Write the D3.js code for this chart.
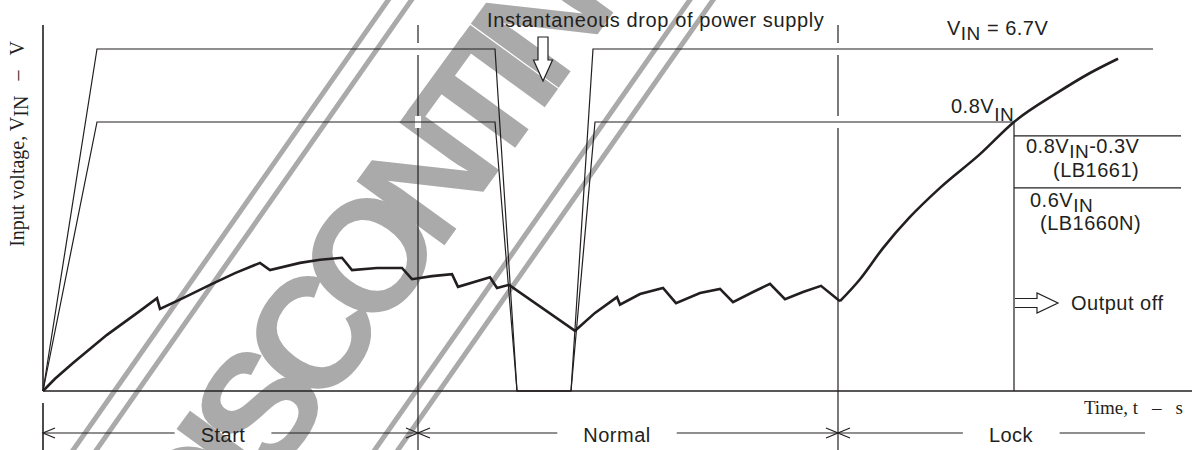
<!DOCTYPE html>
<html>
<head>
<meta charset="utf-8">
<title>Input voltage vs time</title>
<style>
  body { margin: 0; background: #fff; }
  svg { display: block; }
  .sans { font-family: "Liberation Sans", Arial, sans-serif; fill: #231f20; letter-spacing: 0.5px; }
  .serif { font-family: "Liberation Serif", "Times New Roman", serif; fill: #231f20; }
  .thin { fill: none; stroke: #231f20; stroke-width: 1.2; }
  .axis { stroke: #231f20; stroke-width: 1.6; }
  .curve { fill: none; stroke: #231f20; stroke-width: 2.6; stroke-linejoin: miter; }
  .stamp { fill: #aaa; }
</style>
</head>
<body>
<script src="https://d3js.org/d3.v7.min.js"></script>
<script>
// time is in arbitrary units (0..115), voltage in V
const vinLevel = 6.7;
const lockLevel = 5.27;              // 0.8 VIN
const releaseLevels = [5.0, 3.98];   // 0.8VIN-0.3V (LB1661), 0.6VIN (LB1660N)

const supplyT = [0, 5.4, 45.2, 47.4, 52.8, 55.0, 111.0];
const supplyV = [0, 6.7, 6.7, 0, 0, 6.7, 6.7];
const detectT = [0, 5.4, 45.2, 47.4, 52.8, 55.2, 97.1, 97.1];
const detectV = [0, 5.27, 5.27, 0, 0, 5.27, 5.27, 0];

// capacitor voltage: sawtooth part (start + normal)
const ctT = [0, 1.2, 3.0, 6.4, 9.7, 11.4, 11.7, 14.2, 16.7, 19.2, 21.7, 22.7, 25.7, 27.7, 29.9,
  30.9, 33.4, 35.9, 36.9, 38.9, 40.9, 41.5, 44.7, 45.4, 46.6, 53.2, 55.2, 57.4, 57.7, 59.7,
  62.0, 63.3, 65.7, 67.7, 69.0, 71.0, 72.7, 74.2, 76.0, 77.8, 79.7];
const ctV = [0, 0.24, 0.55, 1.10, 1.57, 1.82, 1.61, 1.84, 2.08, 2.31, 2.51, 2.37, 2.51, 2.57, 2.61,
  2.37, 2.41, 2.41, 2.19, 2.25, 2.29, 2.04, 2.23, 2.02, 2.08, 1.18, 1.53, 1.84, 1.69, 1.90,
  2.02, 1.72, 1.92, 2.00, 1.74, 1.94, 2.10, 1.80, 1.94, 2.06, 1.76];
// capacitor voltage after the last reset (lock)
const lockT = [79.7, 81.7, 84.0, 86.7, 89.7, 93.7, 97.1, 101.4, 104.7, 107.5];
const lockV = [1.76, 2.19, 2.80, 3.41, 3.98, 4.64, 5.27, 5.84, 6.23, 6.51];

const phaseNames = ["Start", "Normal", "Lock"];
const phaseEdges = [0, 37.5, 79.5, 110.2];
const phaseCenters = [18.0, 57.4, 96.8];

const width = 1192, height = 450;
const svg = d3.select("body").append("svg")
  .attr("width", width).attr("height", height);

const x = d3.scaleLinear().domain([0, 115]).range([43, 1193]);
const y = d3.scaleLinear().domain([0, vinLevel]).range([391, 49]);

// DISCONTINUED stamp (behind everything)
const fs = 158;
svg.append("text")
  .attr("class", "stamp")
  .attr("transform", "translate(440,155) rotate(-54)")
  .attr("text-anchor", "middle")
  .attr("y", fs * 0.358)
  .style("font-family", "'Liberation Sans', Arial, sans-serif")
  .style("font-weight", "bold")
  .style("font-size", fs + "px")
  .style("letter-spacing", "-20px")
  .text("DISCONTINUED");
const bars = svg.append("g")
  .attr("transform", "translate(440,158) rotate(-55)");
[-133, -114, 114, 133].forEach(off => {
  bars.append("line")
    .attr("x1", -800).attr("x2", 800)
    .attr("y1", off).attr("y2", off)
    .attr("stroke", "#aaa").attr("stroke-width", 5);
});

// phase dividers, broken where they cross the level lines
const breaks = [vinLevel, lockLevel];
phaseEdges.slice(1, 3).forEach(t => {
  svg.append("line").attr("class", "thin")
    .attr("x1", x(t)).attr("x2", x(t))
    .attr("y1", 25).attr("y2", height);
  breaks.forEach(v => {
    svg.append("rect")
      .attr("x", x(t) - 3).attr("width", 6)
      .attr("y", y(v) - 6).attr("height", 12)
      .attr("fill", "#fff");
  });
});

const line = d3.line().x(d => x(d[0])).y(d => y(d[1]));
const smooth = d3.line().x(d => x(d[0])).y(d => y(d[1])).curve(d3.curveMonotoneX);

svg.append("path").attr("class", "thin")
  .attr("d", line(d3.zip(supplyT, supplyV)));
svg.append("path").attr("class", "thin")
  .attr("d", line(d3.zip(detectT, detectV)));

// release thresholds after lock
releaseLevels.forEach(v => {
  svg.append("line").attr("class", "thin")
    .attr("x1", x(detectT[6])).attr("x2", x(113.8))
    .attr("y1", y(v)).attr("y2", y(v));
});

// axes
svg.append("line").attr("class", "axis")
  .attr("x1", x(0)).attr("x2", width).attr("y1", y(0)).attr("y2", y(0));
svg.append("line").attr("class", "axis")
  .attr("x1", x(0)).attr("x2", x(0)).attr("y1", 25).attr("y2", y(0));
svg.append("line").attr("class", "axis")
  .attr("x1", x(0)).attr("x2", x(0)).attr("y1", 403).attr("y2", height);

svg.append("path").attr("class", "curve")
  .attr("d", line(d3.zip(ctT, ctV)));
svg.append("path").attr("class", "curve")
  .attr("d", smooth(d3.zip(lockT, lockV)));

// phase brackets
const by = 433;
phaseNames.forEach((name, i) => {
  const t0 = phaseEdges[i], t1 = phaseEdges[i + 1];
  const lab = svg.append("text").attr("class", "sans")
    .attr("x", x(phaseCenters[i])).attr("y", by + 9)
    .attr("text-anchor", "middle")
    .style("font-size", "20px")
    .text(name);
  const bb = lab.node().getBBox();
  svg.append("line").attr("class", "thin")
    .attr("x1", x(t0)).attr("x2", bb.x - 26).attr("y1", by).attr("y2", by);
  svg.append("line").attr("class", "thin")
    .attr("x1", bb.x + bb.width + 26).attr("x2", x(t1)).attr("y1", by).attr("y2", by);
  svg.append("path").attr("class", "thin")
    .attr("d", `M${x(t0) + 12},${by - 5}L${x(t0)},${by}L${x(t0) + 12},${by + 5}`);
  if (i < 2) {
    svg.append("path").attr("class", "thin")
      .attr("d", `M${x(t1) - 12},${by - 5}L${x(t1)},${by}L${x(t1) - 12},${by + 5}`);
  }
});

// axis titles
const xt = svg.append("text").attr("class", "serif")
  .attr("text-anchor", "end")
  .attr("x", 1183).attr("y", 414)
  .style("font-size", "19px");
xt.append("tspan").text("Time, t");
xt.append("tspan").attr("dx", 14).text("\u2013");
xt.append("tspan").attr("dx", 14).text("s");

const yt = svg.append("text").attr("class", "serif")
  .attr("transform", "translate(24,144) rotate(-90)")
  .attr("text-anchor", "middle")
  .style("font-size", "20px");
yt.append("tspan").text("Input voltage, V");
yt.append("tspan").attr("dy", 4).text("IN");
yt.append("tspan").attr("dy", -4).attr("dx", 15).text("\u2013");
yt.append("tspan").attr("dx", 15).text("V");

// annotations
function subLabel(px, py, parts, size, shift) {
  const t = svg.append("text").attr("class", "sans")
    .attr("x", px).attr("y", py).style("font-size", size + "px");
  t.append("tspan").text(parts[0]);
  t.append("tspan").attr("dy", shift).style("font-size", (size - 1) + "px").text(parts[1]);
  if (parts[2]) t.append("tspan").attr("dy", -shift).text(parts[2]);
  return t;
}
subLabel(947, 35, ["V", "IN", " = 6.7V"], 20, 5);
subLabel(951, y(lockLevel) - 9, ["0.8V", "IN"], 20, 8);
subLabel(1026, y(releaseLevels[0]) + 17, ["0.8V", "IN", "-0.3V"], 20, 5);
svg.append("text").attr("class", "sans")
  .attr("x", 1053).attr("y", y(releaseLevels[0]) + 41)
  .style("font-size", "20px").text("(LB1661)");
subLabel(1030, y(releaseLevels[1]) + 19, ["0.6V", "IN"], 20, 5);
svg.append("text").attr("class", "sans")
  .attr("x", 1040).attr("y", y(releaseLevels[1]) + 42)
  .style("font-size", "20px").text("(LB1660N)");

svg.append("text").attr("class", "sans")
  .attr("x", 487).attr("y", 27)
  .style("font-size", "20px")
  .style("letter-spacing", "0.6px")
  .text("Instantaneous drop of power supply");

// hollow arrows
const ax = 543;
svg.append("path")
  .attr("fill", "#fff").attr("stroke", "#231f20").attr("stroke-width", 1.2)
  .attr("d", `M${ax - 5},37V60H${ax - 9.5}L${ax},81L${ax + 9.5},60H${ax + 5}V37Z`);

const ox = x(detectT[6]) + 1, oy = 303;
svg.append("path")
  .attr("fill", "#fff").attr("stroke", "#231f20").attr("stroke-width", 1.2)
  .attr("d", `M${ox},${oy - 4.5}H${ox + 22}V${oy - 10}L${ox + 43},${oy}L${ox + 22},${oy + 10}V${oy + 4.5}H${ox}`);
svg.append("text").attr("class", "sans")
  .attr("x", 1071).attr("y", oy + 7)
  .style("font-size", "20px").text("Output off");
</script>
</body>
</html>
